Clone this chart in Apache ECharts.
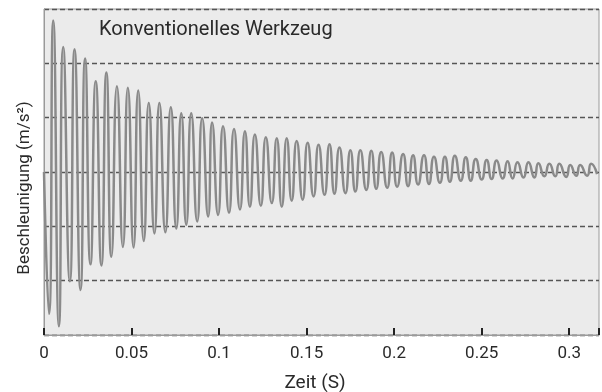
<!DOCTYPE html>
<html>
<head>
<meta charset="utf-8">
<script src="https://cdn.jsdelivr.net/npm/echarts@6/dist/echarts.min.js"></script>
<style>
html,body{margin:0;padding:0;background:#fff;}
#c{width:602px;height:392px;}
</style>
</head>
<body>
<div id="c"></div>
<script>
// time (s) of each extremum
var times = [0, 0.00284, 0.00528, 0.00852, 0.01097, 0.01477, 0.01744, 0.02085, 0.02347, 0.02653, 0.02955,
  0.03278, 0.03563, 0.03847, 0.04165, 0.04506, 0.04790, 0.05114, 0.05381, 0.05699, 0.05983,
  0.06307, 0.06591, 0.06932, 0.07244, 0.07557, 0.07841, 0.08125, 0.08409, 0.08750, 0.09034,
  0.09375, 0.09602, 0.09943, 0.10227, 0.10568, 0.10852, 0.11193, 0.11477, 0.11761, 0.12045,
  0.12386, 0.12670, 0.13011, 0.13295, 0.13580, 0.13864, 0.14148, 0.14432, 0.14773, 0.15057,
  0.15398, 0.15682, 0.16023, 0.16307, 0.16591, 0.16875, 0.17216, 0.17500, 0.17784, 0.18068,
  0.18409, 0.18693, 0.18977, 0.19261, 0.19602, 0.19886, 0.20170, 0.20511, 0.20795, 0.21080,
  0.21364, 0.21705, 0.21989, 0.22273, 0.22614, 0.22898, 0.23182, 0.23466, 0.23807, 0.24091,
  0.24375, 0.24659, 0.25000, 0.25284, 0.25568, 0.25852, 0.26193, 0.26477, 0.26761, 0.27045,
  0.27386, 0.27670, 0.28011, 0.28239, 0.28580, 0.28864, 0.29205, 0.29432, 0.29830, 0.30057,
  0.30398, 0.30625, 0.31023, 0.31250, 0.31591];
// acceleration at each extremum
var accel = [0, -2.61, 2.79, -2.84, 2.30, -2.01, 2.26, -2.17, 2.09, -1.70, 1.67,
  -1.72, 1.83, -1.56, 1.58, -1.38, 1.55, -1.39, 1.50, -1.27, 1.27,
  -1.13, 1.27, -1.11, 1.19, -1.04, 1.08, -0.97, 1.08, -0.91, 0.99,
  -0.82, 0.91, -0.79, 0.84, -0.75, 0.79, -0.69, 0.75, -0.64, 0.69,
  -0.62, 0.64, -0.57, 0.62, -0.64, 0.62, -0.53, 0.57, -0.51, 0.54,
  -0.45, 0.50, -0.42, 0.51, -0.40, 0.45, -0.39, 0.40, -0.36, 0.40,
  -0.33, 0.39, -0.31, 0.37, -0.29, 0.36, -0.27, 0.33, -0.26, 0.31,
  -0.23, 0.31, -0.22, 0.28, -0.20, 0.28, -0.18, 0.30, -0.16, 0.27,
  -0.16, 0.24, -0.14, 0.22, -0.13, 0.21, -0.12, 0.20, -0.12, 0.18,
  -0.10, 0.18, -0.10, 0.16, -0.08, 0.15, -0.08, 0.15, -0.09, 0.13,
  -0.07, 0.13, -0.07, 0.15, -0.04];
var xTicks = ['0', '0.05', '0.1', '0.15', '0.2', '0.25', '0.3'];
var titleText = 'Konventionelles Werkzeug';
var xName = 'Zeit (S)';
var yName = 'Beschleunigung (m/s²)';

var data = times.map(function (t, i) { return [t, accel[i]]; });
var font = 'Roboto, "Noto Sans", sans-serif';
var chart = echarts.init(document.getElementById('c'), null, {renderer: 'canvas'});
chart.setOption({
  animation: false,
  backgroundColor: '#ffffff',
  grid: {left: 44, right: -2, top: 9, bottom: 57, show: true, backgroundColor: '#ebebeb',
    borderColor: '#9a9a9a', borderWidth: 1},
  graphic: [
    {type: 'text', left: 99, top: 20,
      style: {text: titleText, font: '20px ' + font, fill: '#2a2a2a'}},
    {type: 'text', x: 315, y: 383,
      style: {text: xName, font: '19px ' + font, fill: '#2a2a2a', align: 'center', verticalAlign: 'middle'}},
    {type: 'text', x: 25, y: 188, rotation: Math.PI / 2,
      style: {text: yName, font: '17px ' + font, fill: '#2a2a2a', align: 'center', verticalAlign: 'middle'}}
  ],
  xAxis: {
    type: 'value', min: 0, max: 0.317, interval: 0.05,
    axisLine: {show: true, onZero: false, lineStyle: {color: '#9a9a9a', width: 1}},
    axisTick: {show: true, inside: true, length: 7, lineStyle: {color: '#222', width: 2}},
    axisLabel: {fontFamily: font, fontSize: 17, color: '#2a2a2a', margin: 10,
      formatter: function (v) { var s = String(Math.round(v * 100) / 100); return xTicks.indexOf(s) >= 0 ? s : ''; }},
    splitLine: {show: false}
  },
  yAxis: {
    type: 'value', min: -3, max: 3, interval: 1,
    axisLine: {show: true, lineStyle: {color: '#9a9a9a'}},
    axisTick: {show: false}, axisLabel: {show: false},
    splitLine: {show: true, lineStyle: {color: '#555', width: 1.4, type: [5, 3]}}
  },
  series: [{
    type: 'line', data: data, smooth: 0.6, showSymbol: false, symbol: 'none',
    lineStyle: {color: '#8a8a8a', width: 2.5}, z: 1
  }]
});
</script>
</body>
</html>
